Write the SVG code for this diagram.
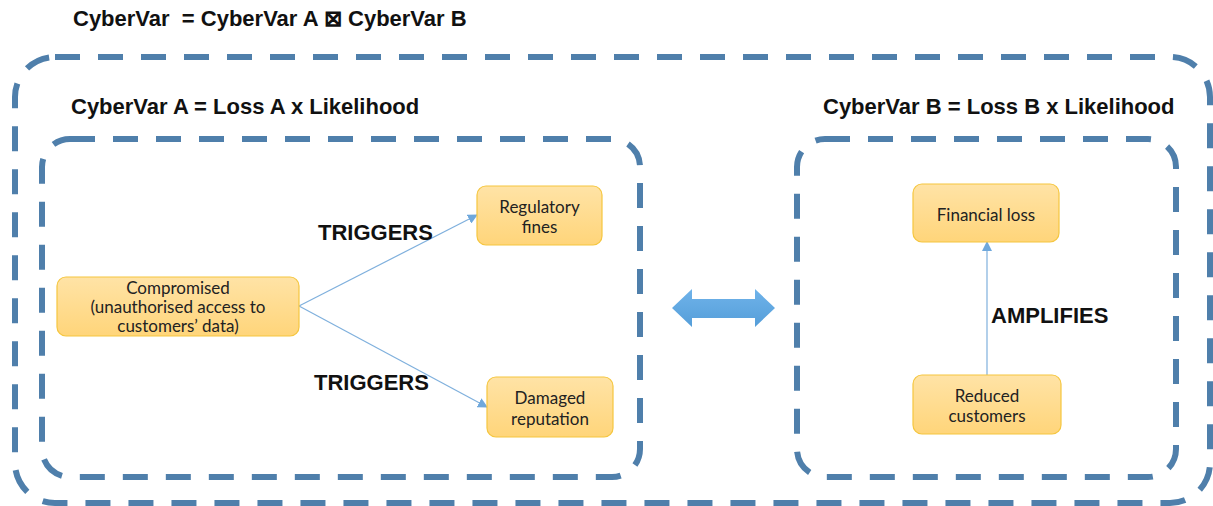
<svg xmlns="http://www.w3.org/2000/svg" width="1213" height="506" viewBox="0 0 1213 506">
  <defs>
    <linearGradient id="nodeFill" x1="0" y1="0" x2="0" y2="1">
      <stop offset="0" stop-color="#FFE3A6"/>
      <stop offset="1" stop-color="#FFD57A"/>
    </linearGradient>
    <linearGradient id="bigArrowFill" x1="0" y1="0" x2="0" y2="1">
      <stop offset="0" stop-color="#6FB3EA"/>
      <stop offset="1" stop-color="#559ED9"/>
    </linearGradient>
    <marker id="tri" viewBox="0 0 10 10" refX="9" refY="5" markerWidth="10" markerHeight="10" markerUnits="userSpaceOnUse" orient="auto">
      <path d="M0,0 L10,5 L0,10 Z" fill="#6FA8DC"/>
    </marker>
  </defs>
  <style>
    .frame { fill: none; stroke: #4F7FAB; stroke-width: 6; stroke-dasharray: 25 18; }
    .title { font-family: "Liberation Sans", Arial, sans-serif; font-weight: bold; font-size: 22px; fill: #111; white-space: pre; }
    .node rect { fill: url(#nodeFill); stroke: #F5C63F; stroke-width: 1.2; }
    .node text { font-family: Lato, "Open Sans", sans-serif; font-size: 17px; fill: #222; text-anchor: middle; }
    .edge { fill: none; stroke: #7FB0DD; stroke-width: 1.2; }
    .lbl { font-family: "Liberation Sans", Arial, sans-serif; font-weight: bold; font-size: 22px; fill: #111; }
  </style>

  <!-- formulas -->
  <text class="title" x="73" y="26" xml:space="preserve">CyberVar  = CyberVar A ⊠ CyberVar B</text>
  <text class="title" x="71" y="114">CyberVar A = Loss A x Likelihood</text>
  <text class="title" x="823" y="114">CyberVar B = Loss B x Likelihood</text>

  <!-- dashed frames -->
  <g id="frames">
    <rect class="frame" x="15" y="57" width="1195" height="446" rx="40"/>
    <rect class="frame" x="42" y="139" width="598" height="338" rx="28"/>
    <rect class="frame" x="797" y="139" width="379" height="338" rx="28"/>
  </g>

  <!-- connectors -->
  <g id="connectors">
    <line class="edge" x1="299" y1="306" x2="477" y2="215" marker-end="url(#tri)"/>
    <line class="edge" x1="299" y1="306" x2="487" y2="407" marker-end="url(#tri)"/>
    <line class="edge" x1="987" y1="375" x2="987" y2="242" marker-end="url(#tri)"/>
    <path id="link-ab" d="M672,308 L692,289 L692,299 L755,299 L755,289 L775,308 L755,327 L755,318 L692,318 L692,327 Z" fill="url(#bigArrowFill)"/>
    <text class="lbl" x="318" y="240">TRIGGERS</text>
    <text class="lbl" x="314" y="390">TRIGGERS</text>
    <text class="lbl" x="991" y="323">AMPLIFIES</text>
  </g>

  <!-- nodes -->
  <g id="compromised" class="node">
    <rect x="57" y="277" width="242" height="59" rx="9"/>
    <text x="178" y="294">Compromised</text>
    <text x="178" y="313">(unauthorised access to</text>
    <text x="178" y="332">customers’  data)</text>
  </g>
  <g id="regulatory-fines" class="node">
    <rect x="477" y="186" width="125" height="59" rx="9"/>
    <text x="539.500" y="213">Regulatory</text>
    <text x="539.500" y="233">fines</text>
  </g>
  <g id="damaged-reputation" class="node">
    <rect x="487" y="377" width="126" height="60" rx="9"/>
    <text x="550" y="404">Damaged</text>
    <text x="550" y="425">reputation</text>
  </g>
  <g id="financial-loss" class="node">
    <rect x="913" y="184" width="146" height="58" rx="9"/>
    <text x="986" y="221">Financial loss</text>
  </g>
  <g id="reduced-customers" class="node">
    <rect x="913" y="375" width="148" height="59" rx="9"/>
    <text x="987" y="402">Reduced</text>
    <text x="987" y="422">customers</text>
  </g>
</svg>
